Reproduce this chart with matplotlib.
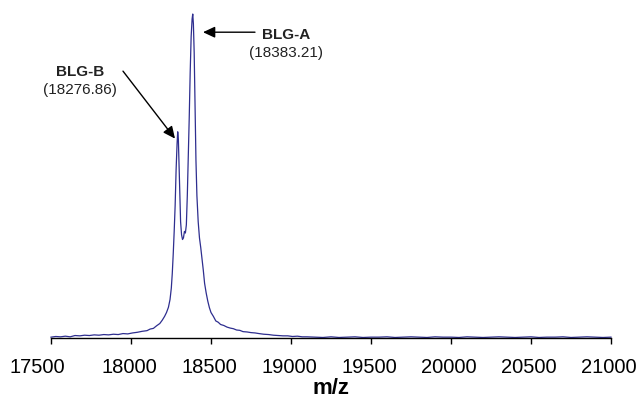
import matplotlib
matplotlib.use('Agg')
import matplotlib.pyplot as plt
from matplotlib.transforms import ScaledTranslation

plt.rcParams['font.family'] = ['Liberation Sans', 'DejaVu Sans']

# Spectrum (m/z, relative intensity %)
mz = [17500, 17530, 17560, 17590, 17620, 17650, 17680, 17710, 17740, 17770,
      17800, 17830, 17860, 17890, 17920, 17950, 17980, 18010, 18040, 18070,
      18100, 18120, 18140, 18160, 18180, 18195, 18210, 18222, 18234, 18244,
      18252, 18258, 18264, 18270, 18276, 18282, 18288, 18292, 18296, 18300,
      18305, 18310, 18316, 18322, 18328, 18334, 18340, 18346, 18352, 18358,
      18364, 18370, 18376, 18382, 18386, 18390, 18395, 18400, 18406, 18412,
      18420, 18428, 18436, 18444, 18452, 18460, 18470, 18480, 18490, 18500,
      18515, 18530, 18545, 18560, 18580, 18600, 18620, 18640, 18660, 18680,
      18700, 18725, 18750, 18775, 18800, 18830, 18860, 18890, 18920, 18950,
      18980, 19010, 19040, 19070, 19100,
      19150, 19200, 19250, 19300, 19350, 19400, 19450, 19500, 19550, 19600,
      19650, 19700, 19750, 19800, 19850, 19900, 19950, 20000, 20050, 20100,
      20150, 20200, 20250, 20300, 20350, 20400, 20450, 20500, 20550, 20600,
      20650, 20700, 20750, 20800, 20850, 20900, 20950, 21000]
intensity = [0.4, 0.6, 0.5, 0.7, 0.5, 0.9, 0.8, 1.0, 0.9, 1.1,
             1.0, 1.2, 1.1, 1.3, 1.2, 1.5, 1.4, 1.7, 1.9, 2.2,
             2.4, 2.9, 3.1, 3.9, 4.6, 5.6, 6.8, 8.0, 9.6, 12.0,
             15.5, 20.0, 26.0, 33.0, 41.0, 52.0, 60.0, 63.7, 61.5, 54.0,
             44.0, 36.0, 32.0, 30.5, 31.0, 33.0, 32.5, 35.0, 44.0, 56.0,
             68.0, 82.0, 93.0, 98.5, 100.0, 97.0, 88.0, 72.0, 55.0, 44.0,
             36.0, 31.0, 28.0, 24.5, 21.0, 17.0, 14.0, 11.5, 9.5, 8.0,
             6.8, 5.4, 5.0, 4.3, 4.0, 3.5, 3.2, 3.0, 2.6, 2.5,
             2.1, 2.0, 1.8, 1.7, 1.5, 1.3, 1.2, 1.0, 0.9, 0.8,
             0.8, 0.6, 0.7, 0.5, 0.5,
             0.4, 0.3, 0.5, 0.3, 0.4, 0.5, 0.3, 0.4, 0.4, 0.5,
             0.3, 0.4, 0.5, 0.4, 0.3, 0.5, 0.4, 0.4, 0.3, 0.5,
             0.4, 0.3, 0.4, 0.5, 0.4, 0.3, 0.4, 0.5, 0.3, 0.4,
             0.4, 0.5, 0.3, 0.4, 0.5, 0.4, 0.3, 0.4]

xticks = [17500, 18000, 18500, 19000, 19500, 20000, 20500, 21000]

# peak labels: name, mass, text position, arrow tail, arrow tip
peaks = [
    ('BLG-A', '(18383.21)', (18969, 93.5), (18775, 94.4), (18450, 94.4)),
    ('BLG-B', '(18276.86)', (17681, 82.1), (17950, 82.4), (18275, 61.6)),
]

fig = plt.figure(figsize=(6.43, 4.01), dpi=100)
ax = fig.add_axes([0.0793, 0.156, 0.8709, 0.809])

ax.plot(mz, intensity, color='#2e2e8f', lw=0.9, clip_on=False)

ax.set_xlim(17500, 21000)
ax.set_ylim(0, 100)
ax.set_xticks(xticks)
ax.set_xticklabels([str(t) for t in xticks], fontsize=14.5)
ax.set_yticks([])
ax.set_xlabel('m/z', fontsize=16, fontweight='bold', labelpad=1)

for side in ['top', 'right', 'left']:
    ax.spines[side].set_visible(False)
ax.spines['bottom'].set_linewidth(1.0)
ax.tick_params(axis='x', direction='out', length=4, width=1, pad=10)

# the first label sits left of its tick in the original, the rest slightly left
for i, lab in enumerate(ax.get_xticklabels()):
    dx = -14 if i == 0 else -2
    lab.set_transform(lab.get_transform() + ScaledTranslation(dx / 100, 0, fig.dpi_scale_trans))

for name, mass, (tx, ty), tail, tip in peaks:
    ax.text(tx, ty, name, ha='center', va='center', fontsize=11, fontweight='bold', color='#222222')
    ax.text(tx, ty - 5.5, mass, ha='center', va='center', fontsize=11, color='#222222')
    ax.annotate('', xy=tip, xytext=tail,
                arrowprops=dict(arrowstyle='-|>,head_length=0.6,head_width=0.28',
                                color='black', lw=1, mutation_scale=12,
                                shrinkA=0, shrinkB=0))

fig.savefig('out.png', dpi=100)
